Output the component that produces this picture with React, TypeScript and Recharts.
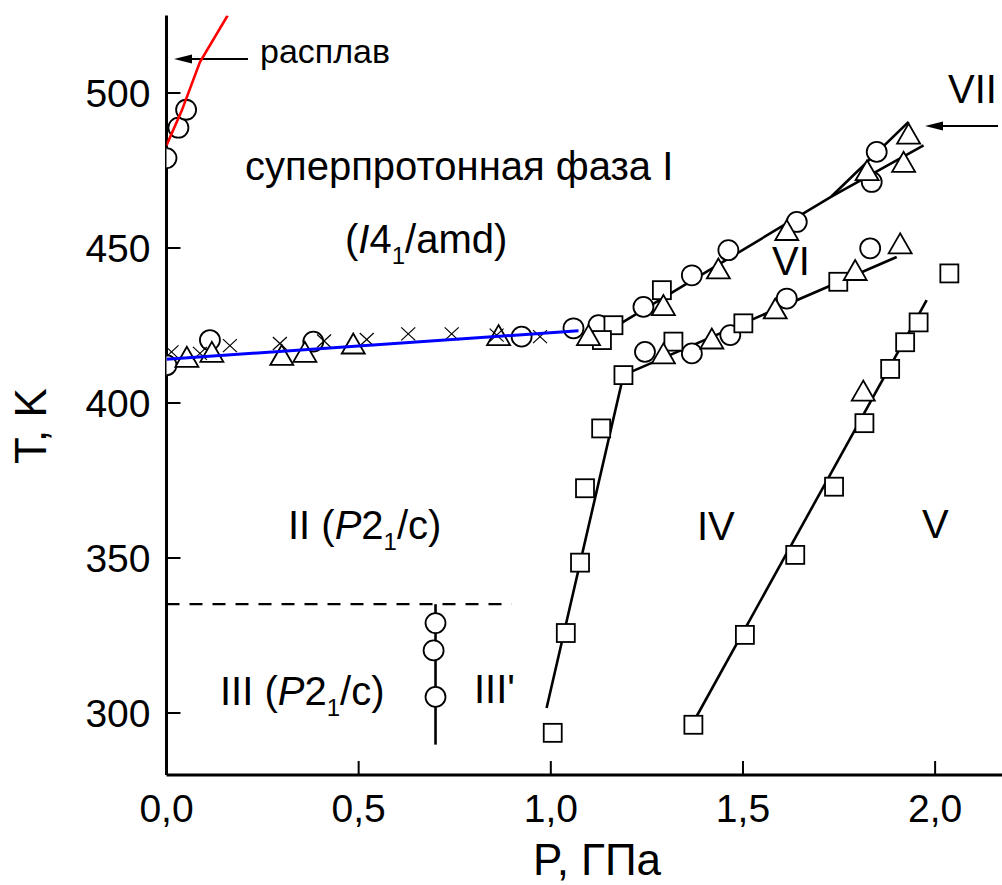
import { ComposedChart, Line, Scatter, XAxis, YAxis } from "recharts";

const FONT = '"Liberation Sans", Arial, sans-serif'

const P_TICKS = [0, 0.5, 1.0, 1.5, 2.0]
const T_TICKS = [300, 350, 400, 450, 500]

// open circles (P, GPa; T, K)
const circlePts = [
    { p: 0.0, t: 479.0 }, { p: 0.031, t: 488.8 }, { p: 0.051, t: 494.6 },
    { p: 0.0, t: 412.2 }, { p: 0.113, t: 420.3 }, { p: 0.382, t: 419.8 },
    { p: 0.924, t: 421.4 }, { p: 1.059, t: 424.1 },
    { p: 1.124, t: 425.1 }, { p: 1.241, t: 431.0 }, { p: 1.367, t: 441.2 },
    { p: 1.462, t: 449.3 }, { p: 1.640, t: 458.4 }, { p: 1.848, t: 481.0 },
    { p: 1.835, t: 471.3 },
    { p: 1.245, t: 416.5 }, { p: 1.367, t: 416.0 }, { p: 1.467, t: 421.9 },
    { p: 1.614, t: 433.7 }, { p: 1.831, t: 449.9 },
    { p: 0.700, t: 329.0 }, { p: 0.695, t: 320.2 }, { p: 0.700, t: 305.2 },
]

const trianglePts = [
    { p: 0.053, t: 414.9 }, { p: 0.118, t: 416.5 }, { p: 0.300, t: 415.5 },
    { p: 0.360, t: 416.5 }, { p: 0.486, t: 419.2 }, { p: 0.864, t: 421.9 },
    { p: 1.098, t: 421.9 }, { p: 1.293, t: 431.6 }, { p: 1.436, t: 443.4 },
    { p: 1.614, t: 455.8 }, { p: 1.823, t: 475.1 }, { p: 1.931, t: 486.9 },
    { p: 1.918, t: 477.8 },
    { p: 1.293, t: 416.0 }, { p: 1.419, t: 420.8 }, { p: 1.584, t: 430.5 },
    { p: 1.792, t: 442.9 }, { p: 1.909, t: 451.5 },
    { p: 1.813, t: 404.0 },
]

const squarePts = [
    { p: 1.163, t: 425.1 }, { p: 1.133, t: 420.3 }, { p: 1.289, t: 436.4 },
    { p: 1.189, t: 409.0 }, { p: 1.319, t: 419.8 }, { p: 1.501, t: 425.7 },
    { p: 1.748, t: 439.1 },
    { p: 1.131, t: 391.8 }, { p: 1.089, t: 372.5 }, { p: 1.076, t: 348.5 },
    { p: 1.039, t: 325.8 }, { p: 1.005, t: 293.6 },
    { p: 1.371, t: 296.2 }, { p: 1.505, t: 325.2 }, { p: 1.636, t: 351.0 },
    { p: 1.737, t: 373.0 }, { p: 1.816, t: 393.5 }, { p: 1.883, t: 411.0 },
    { p: 1.922, t: 419.6 }, { p: 1.957, t: 426.0 }, { p: 2.037, t: 441.8 },
]

const crossPts = [
    { p: 0.013, t: 416.5 }, { p: 0.087, t: 416.0 }, { p: 0.165, t: 418.5 },
    { p: 0.295, t: 419.2 }, { p: 0.410, t: 420.0 }, { p: 0.521, t: 420.5 },
    { p: 0.629, t: 422.3 }, { p: 0.742, t: 422.3 }, { p: 0.859, t: 421.9 },
    { p: 0.972, t: 421.4 },
]

// phase boundaries
const meltLine = [{ p: 0.0, t: 483.1 }, { p: 0.040, t: 494.4 }, { p: 0.087, t: 510.0 }, { p: 0.159, t: 525.0 }]
const lineI_II = [{ p: 0.0, t: 414.1 }, { p: 1.072, t: 423.3 }]
const lineIV = [{ p: 0.989, t: 301.6 }, { p: 1.189, t: 409.0 }, { p: 1.900, t: 447.1 }]
const lineI_VI = [{ p: 1.180, t: 425.5 }, { p: 1.730, t: 466.6 }, { p: 1.970, t: 483.1 }]
const lineVII = [{ p: 1.730, t: 466.6 }, { p: 1.931, t: 490.7 }]
const lineV = [{ p: 1.373, t: 297.5 }, { p: 1.978, t: 433.2 }]
const lineIII = [{ p: 0.700, t: 335.1 }, { p: 0.700, t: 289.8 }]
const lineII_III = [{ p: 0.0, t: 335.1 }, { p: 0.898, t: 335.1 }]

const fmt = (v: number) => v.toFixed(1).replace('.', ',')

const CircleMark = (props: any) => (
    <circle cx={props.cx} cy={props.cy} r={10} fill="#fff" stroke="#000" strokeWidth={1.8} />
)

const TriangleMark = (props: any) => {
    const { cx, cy } = props
    return (
        <polygon
            points={`${cx},${cy - 10} ${cx - 11.5},${cy + 10} ${cx + 11.5},${cy + 10}`}
            fill="#fff" stroke="#000" strokeWidth={1.8}
        />
    )
}

const SquareMark = (props: any) => (
    <rect x={props.cx - 9} y={props.cy - 9} width={18} height={18} fill="#fff" stroke="#000" strokeWidth={1.8} />
)

const CrossMark = (props: any) => {
    const { cx, cy } = props
    return (
        <g stroke="#000" strokeWidth={1.2}>
            <line x1={cx - 7} y1={cy - 6.5} x2={cx + 7} y2={cy + 6.5} />
            <line x1={cx - 7} y1={cy + 6.5} x2={cx + 7} y2={cy - 6.5} />
        </g>
    )
}

const NoMark = () => <g />

const BottomTick = (props: any) => {
    const { x, y, payload } = props
    return (
        <g>
            <line x1={x} y1={y} x2={x} y2={y - 14} stroke="#000" strokeWidth={2} />
            <text x={x} y={y + 47} textAnchor="middle" fontSize={39} fontFamily={FONT} fill="#000">
                {fmt(payload.value)}
            </text>
        </g>
    )
}

const TopTick = (props: any) => {
    const { x, y } = props
    return <line x1={x} y1={y} x2={x} y2={y + 3} stroke="#000" strokeWidth={1.5} />
}

const LeftTick = (props: any) => {
    const { x, y, payload } = props
    return (
        <g>
            <line x1={x} y1={y} x2={x + 14} y2={y} stroke="#000" strokeWidth={2} />
            <text x={x - 16} y={y + 14} textAnchor="end" fontSize={39} fontFamily={FONT} fill="#000">
                {payload.value}
            </text>
        </g>
    )
}

const Arrow = ({ x1, x2, y }: { x1: number; x2: number; y: number }) => (
    <g>
        <line x1={x1} y1={y} x2={x2 + 14} y2={y} stroke="#000" strokeWidth={2} />
        <polygon points={`${x2},${y} ${x2 + 18},${y - 4.5} ${x2 + 18},${y + 4.5}`} fill="#000" />
    </g>
)

// labels, page pixel positions
const Annotations = () => (
    <g fontFamily={FONT} fill="#000">
        <text x={260} y={63} fontSize={34}>расплав</text>
        <Arrow x1={248} x2={174} y={59} />
        <text x={245} y={180} fontSize={40}>суперпротонная фаза I</text>
        <text x={345} y={253} fontSize={40}>
            (<tspan fontStyle="italic">I</tspan>4<tspan fontSize={24} dy={11}>1</tspan>
            <tspan dy={-11}>/amd)</tspan>
        </text>
        <text x={948} y={103} fontSize={40}>VII</text>
        <Arrow x1={998} x2={925} y={126} />
        <text x={772} y={275} fontSize={40}>VI</text>
        <text x={288} y={539} fontSize={40}>
            II (<tspan fontStyle="italic">P</tspan>2<tspan fontSize={24} dy={11}>1</tspan>
            <tspan dy={-11}>/c)</tspan>
        </text>
        <text x={697} y={540} fontSize={40}>IV</text>
        <text x={922} y={538} fontSize={40}>V</text>
        <text x={220} y={705} fontSize={40}>
            III (<tspan fontStyle="italic">P</tspan>2<tspan fontSize={24} dy={11}>1</tspan>
            <tspan dy={-11}>/c)</tspan>
        </text>
        <text x={474} y={703} fontSize={40}>III'</text>
        <text x={46} y={426} fontSize={44} textAnchor="middle" transform="rotate(-90 46 426)">T, K</text>
        <text x={597} y={875} fontSize={44} textAnchor="middle">P, ГПа</text>
    </g>
)

export default function App() {
    return (
        <div style={{ position: 'absolute', left: 0, top: 0, width: 1002, height: 885, overflow: 'hidden', background: '#fff' }}>
            <ComposedChart width={1002} height={885} margin={{ top: 15.5, right: 0, bottom: 0, left: 0 }}>
                <XAxis
                    type="number" dataKey="p" domain={[0, 2.174]} ticks={P_TICKS} allowDataOverflow
                    height={110} tickSize={0} tickMargin={0} tickLine={false} tick={<BottomTick />}
                    axisLine={{ stroke: '#000', strokeWidth: 3 }}
                />
                <XAxis
                    xAxisId="top" orientation="top" type="number" dataKey="p" domain={[0, 2.174]}
                    ticks={P_TICKS} allowDataOverflow height={0} tickSize={0} tickMargin={0}
                    tickLine={false} tick={<TopTick />} axisLine={{ stroke: '#000', strokeWidth: 3 }}
                />
                <YAxis
                    type="number" dataKey="t" domain={[280, 525]} ticks={T_TICKS} allowDataOverflow
                    width={166.5} tickSize={0} tickMargin={0} tickLine={false} tick={<LeftTick />}
                    axisLine={{ stroke: '#000', strokeWidth: 3 }}
                />

                <Line data={lineIV} dataKey="t" stroke="#000" strokeWidth={2.6} dot={false} isAnimationActive={false} />
                <Line data={lineI_VI} dataKey="t" stroke="#000" strokeWidth={2.6} dot={false} isAnimationActive={false} />
                <Line data={lineVII} dataKey="t" stroke="#000" strokeWidth={2.6} dot={false} isAnimationActive={false} />
                <Line data={lineV} dataKey="t" stroke="#000" strokeWidth={2.6} dot={false} isAnimationActive={false} />
                <Line data={lineIII} dataKey="t" stroke="#000" strokeWidth={2.6} dot={false} isAnimationActive={false} />
                <Line data={lineII_III} dataKey="t" stroke="#000" strokeWidth={2.2} strokeDasharray="13 10" dot={false} isAnimationActive={false} />

                <Scatter data={circlePts} shape={CircleMark} isAnimationActive={false} />
                <Scatter data={squarePts} shape={SquareMark} isAnimationActive={false} />
                <Scatter data={trianglePts} shape={TriangleMark} isAnimationActive={false} />
                <Scatter data={crossPts} shape={CrossMark} isAnimationActive={false} />

                <Scatter
                    data={lineI_II} shape={NoMark} line={{ stroke: '#0000ff', strokeWidth: 3 }}
                    lineType="joint" isAnimationActive={false}
                />
                <Scatter
                    data={meltLine} shape={NoMark} line={{ stroke: '#ff0000', strokeWidth: 2.6 }}
                    lineType="joint" isAnimationActive={false}
                />

                <Annotations />
            </ComposedChart>
        </div>
    )
}
